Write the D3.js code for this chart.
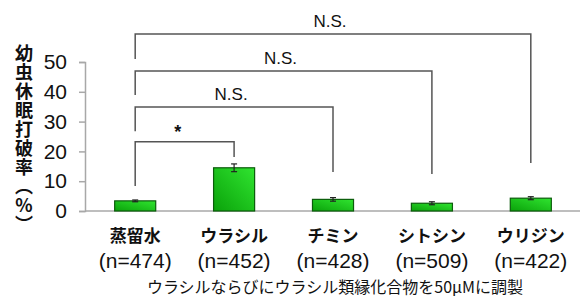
<!DOCTYPE html>
<html><head><meta charset="utf-8">
<script src="https://cdn.jsdelivr.net/npm/d3@7"></script>
<style>body{margin:0;background:#fff}svg{display:block}</style>
</head><body>
<svg id="c" width="583" height="301"></svg>
<script>
const categories = ["蒸留水","ウラシル","チミン","シトシン","ウリジン"];
const nLabels = ["(n=474)","(n=452)","(n=428)","(n=509)","(n=422)"];
const values = [3.4, 14.5, 3.9, 2.6, 4.3];
const errors = [0.3, 1.3, 0.6, 0.5, 0.5];
const yTicks = [0,10,20,30,40,50];
const yLabel = "幼虫休眠打破率（%）";
// comparisons: [fromIndex, toIndex, label, topValue, leftBottomValue, rightBottomValue]
const comparisons = [
  [0,1,"*",23.2,8.4,18.1],
  [0,2,"N.S.",34.9,26.8,13.1],
  [0,3,"N.S.",47.0,38.9,12.4],
  [0,4,"N.S.",59.4,51.0,16.1]
];
const footnote = "ウラシルならびにウラシル類縁化合物を50μMに調製";

const svg = d3.select("#c");
const x = d3.scaleBand().domain(categories).range([85,581]).paddingInner(0.585).paddingOuter(0.3);
const y = d3.scaleLinear().domain([0,50]).range([211,62]);

const defs = svg.append("defs");
const g = defs.append("linearGradient").attr("id","gr").attr("x1","0").attr("y1","1").attr("x2","1").attr("y2","0");
g.append("stop").attr("offset","0").attr("stop-color","#0aa20a");
g.append("stop").attr("offset","1").attr("stop-color","#30e430");

// y axis
const yAxis = d3.axisLeft(y).tickValues(yTicks).tickSize(6).tickPadding(12);
const ya = svg.append("g").attr("transform","translate(85,0)").call(yAxis);
ya.select(".domain").attr("stroke","#a8a8a8").attr("stroke-width",1.5);
ya.selectAll(".tick line").attr("stroke","#a8a8a8").attr("stroke-width",1.5);
ya.selectAll(".tick text").attr("font-family","Liberation Sans, Arial, sans-serif").attr("font-size",21).attr("fill","#111");

// x axis line
svg.append("line").attr("x1",85).attr("x2",580).attr("y1",y(0)).attr("y2",y(0)).attr("stroke","#a8a8a8").attr("stroke-width",1.5);

// bars
svg.selectAll("rect.bar").data(values).join("rect").attr("class","bar")
  .attr("x",(d,i)=>x(categories[i])).attr("width",x.bandwidth())
  .attr("y",d=>y(d)).attr("height",d=>y(0)-y(d))
  .attr("fill","url(#gr)").attr("stroke","#0b5c0b").attr("stroke-width",1.2);

// error bars
const eb = svg.selectAll("g.eb").data(values).join("g").attr("class","eb");
eb.each(function(d,i){
  const cx = x(categories[i]) + x.bandwidth()/2;
  const s = d3.select(this);
  const t = y(d+errors[i]), b = y(d-errors[i]);
  s.append("line").attr("x1",cx).attr("x2",cx).attr("y1",t).attr("y2",b);
  s.append("line").attr("x1",cx-3).attr("x2",cx+3).attr("y1",t).attr("y2",t);
  s.append("line").attr("x1",cx-3).attr("x2",cx+3).attr("y1",b).attr("y2",b);
  s.selectAll("line").attr("stroke","#222").attr("stroke-width",1.2);
});

// brackets
comparisons.forEach(c=>{
  const x1 = x(categories[c[0]]) + x.bandwidth()/2;
  const x2 = x(categories[c[1]]) + x.bandwidth()/2;
  svg.append("path")
    .attr("d",`M${x1},${y(c[4])}V${y(c[3])}H${x2}V${y(c[5])}`)
    .attr("fill","none").attr("stroke","#555").attr("stroke-width",1.5);
  const isStar = c[2]==="*";
  svg.append("text")
    .attr("x", isStar ? (x1+x2)/2 - 7 : (x1+x2)/2 - 3)
    .attr("y", isStar ? y(c[3]) - 4 : y(c[3]) - 7)
    .attr("text-anchor","middle")
    .attr("font-family","Liberation Sans, Arial, sans-serif")
    .attr("font-size", isStar ? 18 : 17)
    .attr("font-weight", isStar ? "bold" : "normal")
    .attr("fill","#111").text(c[2]);
});

// category labels
categories.forEach((c,i)=>{
  const cx = x(c)+x.bandwidth()/2;
  svg.append("text").attr("x",cx).attr("y",242).attr("text-anchor","middle")
    .attr("font-family","Noto Sans CJK JP").attr("font-weight","bold").attr("font-size",17)
    .attr("fill","#111").text(c);
  svg.append("text").attr("x",cx).attr("y",268).attr("text-anchor","middle")
    .attr("font-family","Liberation Sans, Arial, sans-serif").attr("font-size",21)
    .attr("fill","#111").text(nLabels[i]);
});

// footnote
svg.append("text").attr("x",335).attr("y",293).attr("text-anchor","middle")
  .attr("font-family","Noto Sans CJK JP").attr("font-size",16).attr("fill","#111").text(footnote);

// y label (vertical)
svg.append("text").attr("x",24).attr("y",44)
  .style("writing-mode","vertical-rl").style("text-orientation","upright")
  .attr("font-family","Noto Sans CJK JP").attr("font-weight","bold").attr("font-size",18)
  .attr("letter-spacing",1).attr("fill","#111").text(yLabel);
</script>
</body></html>
